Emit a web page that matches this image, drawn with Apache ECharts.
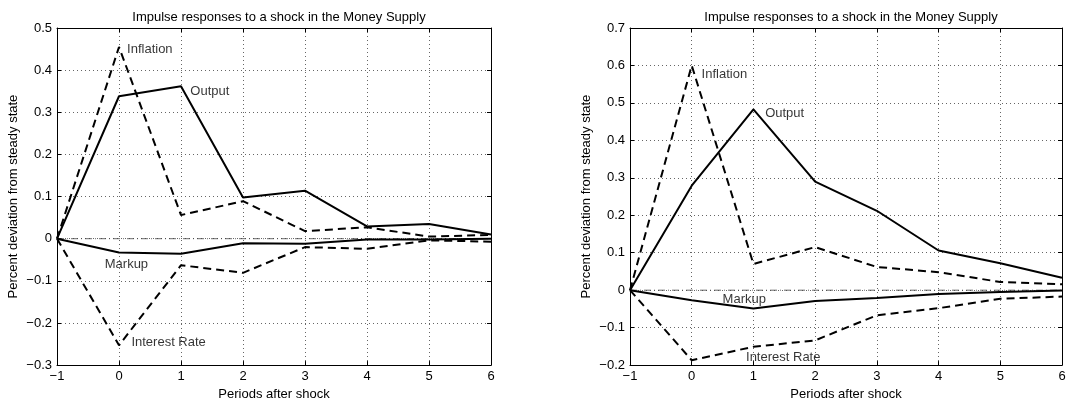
<!DOCTYPE html>
<html><head><meta charset="utf-8">
<script src="https://cdn.jsdelivr.net/npm/echarts@6/dist/echarts.min.js"></script>
<style>html,body{margin:0;padding:0;background:#fff}#c{width:1070px;height:406px}</style>
</head><body><div id="c"></div>
<script>
// ---- data ----
const periods = [-1, 0, 1, 2, 3, 4, 5, 6];
const titleText = 'Impulse responses to a shock in the Money Supply';
const xName = 'Periods after shock';
const yName = 'Percent deviation from steady state';

// left panel
const leftOutput    = [0, 0.338, 0.362, 0.098, 0.114, 0.029, 0.035, 0.010];
const leftInflation = [0, 0.455, 0.056, 0.089, 0.018, 0.027, 0.005, 0.009];
const leftMarkup    = [0, -0.033, -0.036, -0.011, -0.012, -0.002, -0.002, 0.000];
const leftInterest  = [0, -0.253, -0.063, -0.081, -0.020, -0.024, -0.004, -0.007];
const leftLabelText = ['Inflation', 'Output', 'Markup', 'Interest Rate'];
const leftLabelX    = [0.13, 1.15, -0.23, 0.20];
const leftLabelY    = [0.450, 0.349, -0.060, -0.247];

// right panel
const rightOutput    = [0, 0.279, 0.483, 0.290, 0.212, 0.106, 0.072, 0.033];
const rightInflation = [0, 0.600, 0.070, 0.115, 0.062, 0.048, 0.022, 0.016];
const rightMarkup    = [0, -0.027, -0.049, -0.029, -0.021, -0.010, -0.005, -0.001];
const rightInterest  = [0, -0.187, -0.151, -0.134, -0.067, -0.048, -0.023, -0.017];
const rightLabelText = ['Inflation', 'Output', 'Markup', 'Interest Rate'];
const rightLabelX    = [0.16, 1.19, 0.50, 0.88];
const rightLabelY    = [0.577, 0.473, -0.024, -0.179];

const leftY  = {min: -0.3, max: 0.5, interval: 0.1};
const rightY = {min: -0.2, max: 0.7, interval: 0.1};

// ---- chart ----
const FONT = '"Liberation Sans", Arial, sans-serif';
const FS = 13;
const minus = s => String(s).replace('-', '\u2212');
const yFmt = v => { const r = Math.round(v * 10) / 10; return r === 0 ? '0' : minus(r.toFixed(1)); };
const xFmt = v => minus(Math.round(v));

function pair(p) { return periods.map((x, i) => [x, p[i]]); }

function axesFor(gridIndex, yr) {
  const xa = [
    {type: 'value', gridIndex, position: 'bottom', min: -1, max: 6, interval: 1,
     name: xName, nameLocation: 'middle', nameGap: 20,
     nameTextStyle: {fontFamily: FONT, fontSize: FS, color: '#000'},
     axisLine: {show: true, onZero: false, lineStyle: {color: '#000', width: 1}},
     axisTick: {show: true, inside: true, length: 4, lineStyle: {color: '#000'}},
     axisLabel: {formatter: xFmt, fontFamily: FONT, fontSize: FS, color: '#000', margin: 5},
     splitLine: {show: true, lineStyle: {color: '#666', type: [1, 3], width: 1}}},
    {type: 'value', gridIndex, position: 'top', min: -1, max: 6, interval: 1,
     axisLine: {show: true, onZero: false, lineStyle: {color: '#000', width: 1}},
     axisTick: {show: true, inside: true, length: 4, lineStyle: {color: '#000'}},
     axisLabel: {show: false}, splitLine: {show: false}}
  ];
  const ya = [
    {type: 'value', gridIndex, position: 'left', min: yr.min, max: yr.max, interval: yr.interval,
     name: yName, nameLocation: 'middle', nameGap: 37, nameRotate: 90,
     nameTextStyle: {fontFamily: FONT, fontSize: FS, color: '#000'},
     axisLine: {show: true, onZero: false, lineStyle: {color: '#000', width: 1}},
     axisTick: {show: true, inside: true, length: 4, lineStyle: {color: '#000'}},
     axisLabel: {formatter: yFmt, fontFamily: FONT, fontSize: FS, color: '#000', margin: 5},
     splitLine: {show: true, lineStyle: {color: '#666', type: [1, 3], width: 1}}},
    {type: 'value', gridIndex, position: 'right', min: yr.min, max: yr.max, interval: yr.interval,
     axisLine: {show: true, onZero: false, lineStyle: {color: '#000', width: 1}},
     axisTick: {show: true, inside: true, length: 4, lineStyle: {color: '#000'}},
     axisLabel: {show: false}, splitLine: {show: false}}
  ];
  return {xa, ya};
}

const L = axesFor(0, leftY), R = axesFor(1, rightY);

function lineS(ax, data, dashed) {
  return {type: 'line', xAxisIndex: ax, yAxisIndex: ax, data: pair(data), symbol: 'none',
          lineStyle: {color: '#000', width: 2, type: dashed ? [8, 5] : 'solid'}, z: 3};
}
function zeroS(ax) {
  return {type: 'line', xAxisIndex: ax, yAxisIndex: ax, data: [[-1, 0], [6, 0]], symbol: 'none',
          lineStyle: {color: '#444', width: 0.8, type: [7, 3, 1, 3]}, z: 2};
}
function labelS(ax, xs, ys, texts) {
  return {type: 'scatter', xAxisIndex: ax, yAxisIndex: ax, symbolSize: 0, silent: true, z: 5,
          data: xs.map((x, i) => ({value: [x, ys[i]], name: texts[i]})),
          label: {show: true, position: 'right', distance: 0, formatter: p => p.name,
                  fontFamily: FONT, fontSize: FS, color: '#000'}};
}

const option = {
  animation: false,
  backgroundColor: '#fff',
  title: [
    {text: titleText, left: 274, top: 6, textAlign: 'center',
     textStyle: {fontFamily: FONT, fontSize: FS, fontWeight: 'normal', color: '#000'}},
    {text: titleText, left: 846, top: 6, textAlign: 'center',
     textStyle: {fontFamily: FONT, fontSize: FS, fontWeight: 'normal', color: '#000'}}
  ],
  grid: [
    {left: 57, right: 579, top: 28, bottom: 39},
    {left: 630, right: 8, top: 28, bottom: 39}
  ],
  xAxis: [L.xa[0], R.xa[0], L.xa[1], R.xa[1]],
  yAxis: [L.ya[0], R.ya[0], L.ya[1], R.ya[1]],
  series: [
    zeroS(0), lineS(0, leftOutput, false), lineS(0, leftMarkup, false),
    lineS(0, leftInflation, true), lineS(0, leftInterest, true),
    labelS(0, leftLabelX, leftLabelY, leftLabelText),
    zeroS(1), lineS(1, rightOutput, false), lineS(1, rightMarkup, false),
    lineS(1, rightInflation, true), lineS(1, rightInterest, true),
    labelS(1, rightLabelX, rightLabelY, rightLabelText)
  ]
};
echarts.init(document.getElementById('c')).setOption(option);
</script></body></html>
